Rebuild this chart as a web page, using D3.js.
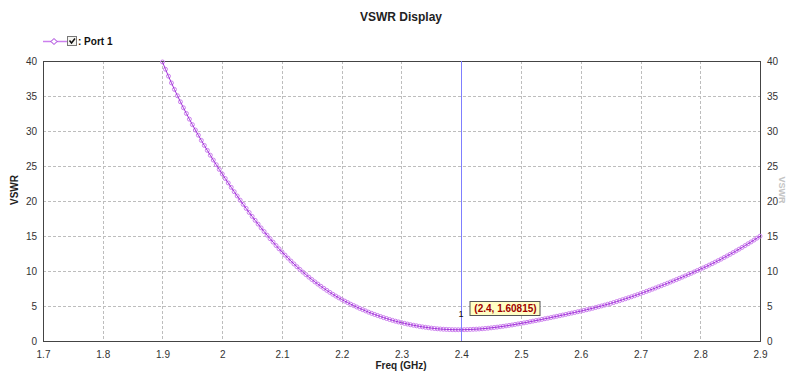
<!DOCTYPE html>
<html>
<head>
<meta charset="utf-8">
<script src="https://cdn.jsdelivr.net/npm/d3@7"></script>
<style>
  body { margin: 0; background: #fff; }
  svg { font-family: "Liberation Sans", Arial, sans-serif; }
</style>
</head>
<body>
<svg id="chart" width="786" height="373"></svg>
<script>
// sweep frequencies (GHz) and VSWR
const freqGHz = [
  1.900, 1.905, 1.910, 1.915, 1.920, 1.925, 1.930, 1.935, 1.940, 1.945,
  1.950, 1.955, 1.960, 1.965, 1.970, 1.975, 1.980, 1.985, 1.990, 1.995,
  2.000, 2.005, 2.010, 2.015, 2.020, 2.025, 2.030, 2.035, 2.040, 2.045,
  2.050, 2.055, 2.060, 2.065, 2.070, 2.075, 2.080, 2.085, 2.090, 2.095,
  2.100, 2.105, 2.110, 2.115, 2.120, 2.125, 2.130, 2.135, 2.140, 2.145,
  2.150, 2.155, 2.160, 2.165, 2.170, 2.175, 2.180, 2.185, 2.190, 2.195,
  2.200, 2.205, 2.210, 2.215, 2.220, 2.225, 2.230, 2.235, 2.240, 2.245,
  2.250, 2.255, 2.260, 2.265, 2.270, 2.275, 2.280, 2.285, 2.290, 2.295,
  2.300, 2.305, 2.310, 2.315, 2.320, 2.325, 2.330, 2.335, 2.340, 2.345,
  2.350, 2.355, 2.360, 2.365, 2.370, 2.375, 2.380, 2.385, 2.390, 2.395,
  2.400, 2.405, 2.410, 2.415, 2.420, 2.425, 2.430, 2.435, 2.440, 2.445,
  2.450, 2.455, 2.460, 2.465, 2.470, 2.475, 2.480, 2.485, 2.490, 2.495,
  2.500, 2.505, 2.510, 2.515, 2.520, 2.525, 2.530, 2.535, 2.540, 2.545,
  2.550, 2.555, 2.560, 2.565, 2.570, 2.575, 2.580, 2.585, 2.590, 2.595,
  2.600, 2.605, 2.610, 2.615, 2.620, 2.625, 2.630, 2.635, 2.640, 2.645,
  2.650, 2.655, 2.660, 2.665, 2.670, 2.675, 2.680, 2.685, 2.690, 2.695,
  2.700, 2.705, 2.710, 2.715, 2.720, 2.725, 2.730, 2.735, 2.740, 2.745,
  2.750, 2.755, 2.760, 2.765, 2.770, 2.775, 2.780, 2.785, 2.790, 2.795,
  2.800, 2.805, 2.810, 2.815, 2.820, 2.825, 2.830, 2.835, 2.840, 2.845,
  2.850, 2.855, 2.860, 2.865, 2.870, 2.875, 2.880, 2.885, 2.890, 2.895,
  2.900
]
const vswr = [
  39.86, 38.82, 37.83, 36.87, 35.94, 35.04, 34.17, 33.32, 32.50, 31.69,
  30.91, 30.14, 29.40, 28.66, 27.94, 27.23, 26.54, 25.85, 25.18, 24.51,
  23.86, 23.21, 22.58, 21.95, 21.33, 20.72, 20.12, 19.52, 18.94, 18.36,
  17.80, 17.24, 16.70, 16.16, 15.64, 15.12, 14.62, 14.13, 13.64, 13.17,
  12.72, 12.27, 11.84, 11.42, 11.01, 10.61, 10.22, 9.84, 9.48, 9.12,
  8.78, 8.45, 8.13, 7.82, 7.52, 7.23, 6.95, 6.68, 6.42, 6.17,
  5.93, 5.70, 5.48, 5.26, 5.06, 4.86, 4.66, 4.48, 4.30, 4.12,
  3.95, 3.79, 3.64, 3.49, 3.34, 3.21, 3.08, 2.95, 2.83, 2.72,
  2.62, 2.52, 2.42, 2.33, 2.25, 2.17, 2.09, 2.02, 1.96, 1.90,
  1.84, 1.79, 1.75, 1.71, 1.68, 1.66, 1.64, 1.62, 1.61, 1.61,
  1.61, 1.62, 1.63, 1.65, 1.67, 1.69, 1.72, 1.75, 1.79, 1.83,
  1.88, 1.93, 1.98, 2.04, 2.10, 2.16, 2.23, 2.29, 2.37, 2.44,
  2.52, 2.59, 2.67, 2.75, 2.84, 2.92, 3.00, 3.09, 3.18, 3.26,
  3.35, 3.44, 3.53, 3.62, 3.71, 3.80, 3.90, 3.99, 4.08, 4.18,
  4.27, 4.37, 4.47, 4.57, 4.68, 4.79, 4.90, 5.01, 5.13, 5.25,
  5.37, 5.50, 5.63, 5.76, 5.90, 6.04, 6.18, 6.32, 6.47, 6.62,
  6.77, 6.93, 7.09, 7.25, 7.41, 7.57, 7.74, 7.90, 8.07, 8.24,
  8.42, 8.59, 8.77, 8.95, 9.13, 9.31, 9.49, 9.68, 9.87, 10.06,
  10.25, 10.44, 10.64, 10.85, 11.05, 11.27, 11.48, 11.70, 11.93, 12.16,
  12.39, 12.63, 12.87, 13.12, 13.37, 13.63, 13.89, 14.15, 14.42, 14.70,
  14.97
]
const xTicks = [1.7, 1.8, 1.9, 2.0, 2.1, 2.2, 2.3, 2.4, 2.5, 2.6, 2.7, 2.8, 2.9]
const yTicks = [0, 5, 10, 15, 20, 25, 30, 35, 40]
const markerFreq = [2.4]
const markerValue = [1.60815]
const markerName = ['1']
const seriesName = 'Port 1'

const svg = d3.select('#chart')
const plotLeft = 43, plotRight = 760, plotTop = 61, plotBottom = 341
const lineColor = '#a030d8'
const dotColor = '#cc80ee'

const x = d3.scaleLinear().domain([1.7, 2.9]).range([plotLeft, plotRight])
const y = d3.scaleLinear().domain([0, 40]).range([plotBottom, plotTop])
const fmt = d => String(+d.toFixed(1))

// title
svg.append('text')
  .attr('x', 401).attr('y', 21)
  .attr('text-anchor', 'middle')
  .style('font-size', '12px').style('font-weight', 'bold').attr('fill', '#222')
  .text('VSWR Display')

// legend
const lg = svg.append('g')
lg.append('line').attr('x1', 43).attr('x2', 67).attr('y1', 41.5).attr('y2', 41.5)
  .attr('stroke', dotColor).attr('stroke-width', 1.5)
lg.append('path').attr('d', 'M54,38.5 L57,41.5 L54,44.5 L51,41.5 Z')
  .attr('fill', '#fff').attr('stroke', lineColor)
lg.append('rect').attr('x', 67.5).attr('y', 36.5).attr('width', 9).attr('height', 9)
  .attr('fill', '#f4f4f0').attr('stroke', '#777')
lg.append('path').attr('d', 'M69.5,40.5 L71.5,43 L75,38.5')
  .attr('fill', 'none').attr('stroke', '#111').attr('stroke-width', 1.5)
lg.append('text').attr('x', 78).attr('y', 45)
  .style('font-size', '10px').style('font-weight', 'bold').attr('fill', '#111')
  .text(': ' + seriesName)

// grid
const grid = svg.append('g').attr('stroke', '#bdbdbd').attr('stroke-dasharray', '3,2')
grid.selectAll('.vg').data(xTicks.slice(1, -1)).enter().append('line')
  .attr('x1', d => Math.round(x(d)) + 0.5).attr('x2', d => Math.round(x(d)) + 0.5)
  .attr('y1', plotTop).attr('y2', plotBottom)
grid.selectAll('.hg').data(yTicks.slice(1, -1)).enter().append('line')
  .attr('y1', d => Math.round(y(d)) + 0.5).attr('y2', d => Math.round(y(d)) + 0.5)
  .attr('x1', plotLeft).attr('x2', plotRight)

// axes (labels only, frame drawn separately)
function styleAxis(g) {
  g.select('.domain').remove()
  g.selectAll('.tick line').remove()
  g.selectAll('.tick text')
    .style('font-family', '"Liberation Sans", Arial, sans-serif')
    .style('font-size', '10px').attr('fill', '#333')
}
svg.append('g').attr('transform', `translate(${plotLeft},0)`)
  .call(d3.axisLeft(y).tickValues(yTicks).tickSize(0).tickPadding(6).tickFormat(fmt))
  .call(styleAxis)
svg.append('g').attr('transform', `translate(${plotRight},0)`)
  .call(d3.axisRight(y).tickValues(yTicks).tickSize(0).tickPadding(7).tickFormat(fmt))
  .call(styleAxis)
svg.append('g').attr('transform', `translate(0,${plotBottom})`)
  .call(d3.axisBottom(x).tickValues(xTicks).tickSize(0).tickPadding(10).tickFormat(fmt))
  .call(styleAxis)

// frame
svg.append('rect')
  .attr('x', plotLeft + 0.5).attr('y', plotTop + 0.5)
  .attr('width', plotRight - plotLeft).attr('height', plotBottom - plotTop)
  .attr('fill', 'none').attr('stroke', '#444')

// axis titles
svg.append('text')
  .attr('x', 401).attr('y', 369).attr('text-anchor', 'middle')
  .style('font-size', '10px').style('font-weight', 'bold').attr('fill', '#222')
  .text('Freq (GHz)')
svg.append('text')
  .attr('transform', 'translate(18,190) rotate(-90)').attr('text-anchor', 'middle')
  .style('font-size', '10px').style('font-weight', 'bold').attr('fill', '#222')
  .text('VSWR')
svg.append('text')
  .attr('transform', 'translate(778.5,190) rotate(90)').attr('text-anchor', 'middle')
  .style('font-size', '9px').style('font-weight', 'bold').attr('fill', '#c4c4c4')
  .text('VSWR')

// curve
svg.append('clipPath').attr('id', 'plot-clip').append('rect')
  .attr('x', plotLeft - 3).attr('y', plotTop - 3)
  .attr('width', plotRight - plotLeft + 6).attr('height', plotBottom - plotTop + 6)
const plot = svg.append('g').attr('clip-path', 'url(#plot-clip)')
const pts = freqGHz.map((f, i) => [f, vswr[i]])
plot.selectAll('.dot').data(pts).enter().append('circle')
  .attr('class', 'dot')
  .attr('cx', d => x(d[0])).attr('cy', d => y(d[1])).attr('r', 2)
  .attr('fill', 'none').attr('stroke', dotColor).attr('stroke-width', 1)
plot.append('path').datum(pts)
  .attr('d', d3.line().x(d => x(d[0])).y(d => y(d[1])))
  .attr('fill', 'none').attr('stroke', lineColor).attr('stroke-width', 1)

// marker line and label
markerFreq.forEach((f, i) => {
  const mx = Math.round(x(f)) + 0.5
  const my = y(markerValue[i])
  svg.append('line').attr('x1', mx).attr('x2', mx).attr('y1', plotTop).attr('y2', plotBottom)
    .style('stroke', '#7f7fff').style('stroke-width', '1px')
  svg.append('text').attr('x', mx - 3).attr('y', my - 13)
    .style('font-size', '9px').attr('fill', '#111').text(markerName[i])
  const label = `(${f}, ${markerValue[i]})`
  const box = svg.append('g').attr('transform', `translate(${mx + 8},${Math.round(my) - 29})`)
  box.append('rect').attr('x', 0.5).attr('y', 0.5).attr('width', 70).attr('height', 14)
    .attr('fill', '#ffffc4').attr('stroke', '#555').attr('stroke-width', 1)
  box.append('text').attr('x', 36).attr('y', 11).attr('text-anchor', 'middle')
    .style('font-size', '10px').style('font-weight', 'bold').attr('fill', '#a00000')
    .text(label)
})
</script>
</body>
</html>
